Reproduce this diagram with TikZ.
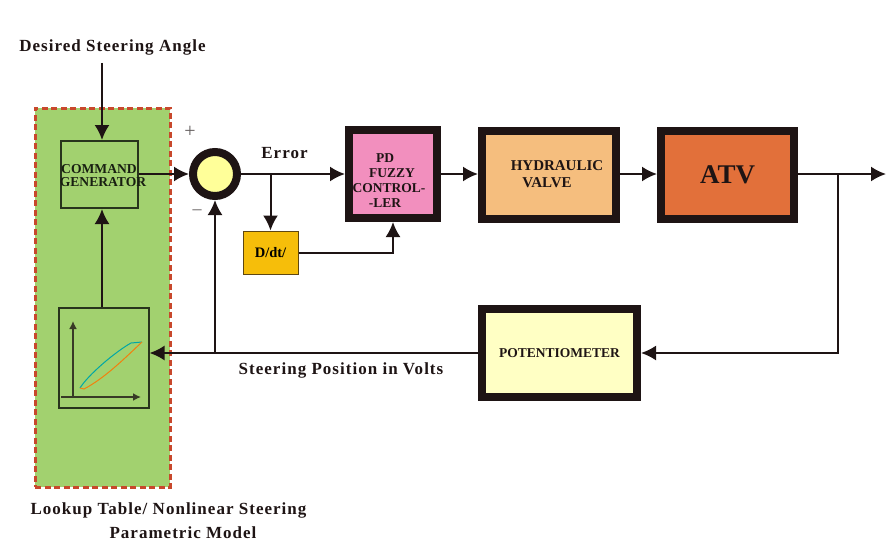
\documentclass[tikz,border=0pt]{standalone}
\usepackage{xcolor}
\usepackage{fontspec}
\setmainfont{Liberation Serif}
\usetikzlibrary{arrows.meta}
\definecolor{panelgreen}{HTML}{A2D16F}
\definecolor{dashred}{HTML}{C8482C}
\definecolor{darkline}{HTML}{1E1414}
\definecolor{sumyellow}{HTML}{FFFF99}
\definecolor{fuzzypink}{HTML}{F28FBE}
\definecolor{valvetan}{HTML}{F5BE7E}
\definecolor{atvorange}{HTML}{E2703A}
\definecolor{ddtgold}{HTML}{F6BE0A}
\definecolor{potyellow}{HTML}{FFFFC4}
\tikzset{
  sigline/.style={draw=darkline, line width=2pt, -{Latex[length=15pt,width=15pt]}},
  thickbox/.style={draw=darkline, line width=8pt, minimum height=88pt, font=\bfseries\fontsize{15}{17}\selectfont, align=center, text=darkline, inner sep=0pt},
  thinbox/.style={draw=black!75!panelgreen, line width=2pt, inner sep=0pt},
  caption/.style={font=\bfseries\fontsize{17}{24}\selectfont\addfontfeatures{LetterSpace=6}, text=darkline, align=center}
}
\begin{document}
\begin{tikzpicture}[x=1pt,y=-1pt]
  \useasboundingbox (0,0) rectangle (886,551);
  % left panel
  \node[fill=panelgreen, draw=dashred, line width=3pt, dash pattern=on 6pt off 3.5pt, minimum width=135pt, minimum height=379pt, inner sep=0pt] (panel) at (102.5,297.5) {};
  \node[thinbox, minimum width=77pt, minimum height=67pt] (cmd) at (99.5,174.5) {};
  \node[thinbox, minimum width=90pt, minimum height=100pt] (lookup) at (103.5,358) {};
  % small graph in the lookup box
  \coordinate (ytop) at (73,321);
  \coordinate (yfoot) at (73,398);
  \coordinate (xfoot) at (61,397);
  \coordinate (xtip) at (141,397);
  \draw[darkline!80!panelgreen, line width=1.6pt, -{Latex[length=8pt,width=8pt]}] (yfoot) -- (ytop);
  \draw[darkline!80!panelgreen, line width=1.6pt, -{Latex[length=8pt,width=8pt]}] (xfoot) -- (xtip);
  \draw[teal!70!cyan, line width=1pt] (80,388) .. controls (88,375) and (115,352) .. (131,343) -- (142,342);
  \draw[orange!80!brown, line width=1pt] (80,388) -- (84,389) .. controls (105,378) and (125,358) .. (142,342);
  % sum point
  \node[circle, draw=darkline, fill=sumyellow, line width=8pt, minimum size=44pt, inner sep=0pt] (sum) at (215,174) {};
  % forward path
  \node[thickbox, fill=fuzzypink, minimum width=88pt] (fuzzy) at (393,174) {};
  \node[thickbox, fill=valvetan, minimum width=134pt] (valve) at (549,174.5) {};
  \node[thickbox, fill=atvorange, minimum width=133pt, font=\bfseries\fontsize{27}{30}\selectfont] (atv) at (727.5,174.5) {ATV};
  \node[thickbox, fill=potyellow, minimum width=155pt, font=\bfseries\fontsize{13.5}{15}\selectfont] (pot) at (559.5,353) {\raisebox{-4pt}{POTENTIOMETER}};
  \node[draw=darkline!70!ddtgold, fill=ddtgold, line width=1pt, minimum width=55pt, minimum height=43pt, inner sep=0pt, font=\bfseries\fontsize{14.5}{16}\selectfont] (ddt) at (270.5,252.5) {D/dt/};
  % free ends and branch points
  \coordinate (start) at (102,63);
  \coordinate (errtap) at (270.5,174);
  \coordinate (out) at (886,174);
  \coordinate (outtap) at (838,174);
  \coordinate (fbcorner) at (838,353);
  \coordinate (fbtap) at (215,353);
  % connectors
  \draw[sigline] (start) -- (cmd.north -| start);
  \draw[sigline] (cmd.east |- sum) -- (sum.west);
  \draw[sigline] (sum.east) -- (fuzzy.west);
  \draw[sigline] (errtap) -- (ddt.north);
  \draw[sigline] (ddt.east) -| (fuzzy.south);
  \draw[sigline] (fuzzy.east) -- (valve.west |- fuzzy.east);
  \draw[sigline] (valve.east |- sum) -- (atv.west |- sum);
  \draw[sigline] (atv.east |- sum) -- (out);
  \draw[sigline] (outtap) -- (fbcorner) -- (pot.east);
  \draw[sigline] (pot.west) -- (lookup.east |- pot.west);
  \draw[sigline] (fbtap) -- (sum.south);
  \draw[sigline] (lookup.north -| start) -- (cmd.south -| start);
  % text over boxes
  \node[font=\bfseries\fontsize{13.6}{14}\selectfont, text=black!85!panelgreen, inner sep=0pt] (cmdtext) at (103,177) {\begin{tabular}{@{}c@{}}\hspace*{-8pt}COMMAND\\[-1pt]GENERATOR\end{tabular}};
  \node[font=\bfseries\fontsize{13.5}{15}\selectfont, text=darkline, align=center] (fuzzytext) at (389,180.5) {\hspace*{-8pt}PD\\\hspace*{6pt}FUZZY\\CONTROL-\\\hspace*{-8pt}-LER};
  \node[font=\bfseries\fontsize{15}{17}\selectfont, text=darkline, align=center] (valvetext) at (557,174) {HYDRAULIC\\\hspace*{-20pt}VALVE};
  % labels
  \node[caption] (desired) at (112.5,47.5) {Desired Steering Angle};
  \node[caption] (error) at (284.5,153) {Error};
  \node[caption] (volts) at (341,370) {Steering Position in Volts};
  \node[caption] (table) at (168.5,521) {Lookup Table/ Nonlinear Steering\\\hspace*{29pt}Parametric Model};
  \node[font=\fontsize{20}{20}\selectfont, text=darkline!70] (plus) at (190,132) {+};
  \node[font=\fontsize{18}{18}\selectfont, text=darkline!70] (minus) at (197,212) {–};
\end{tikzpicture}
\end{document}
